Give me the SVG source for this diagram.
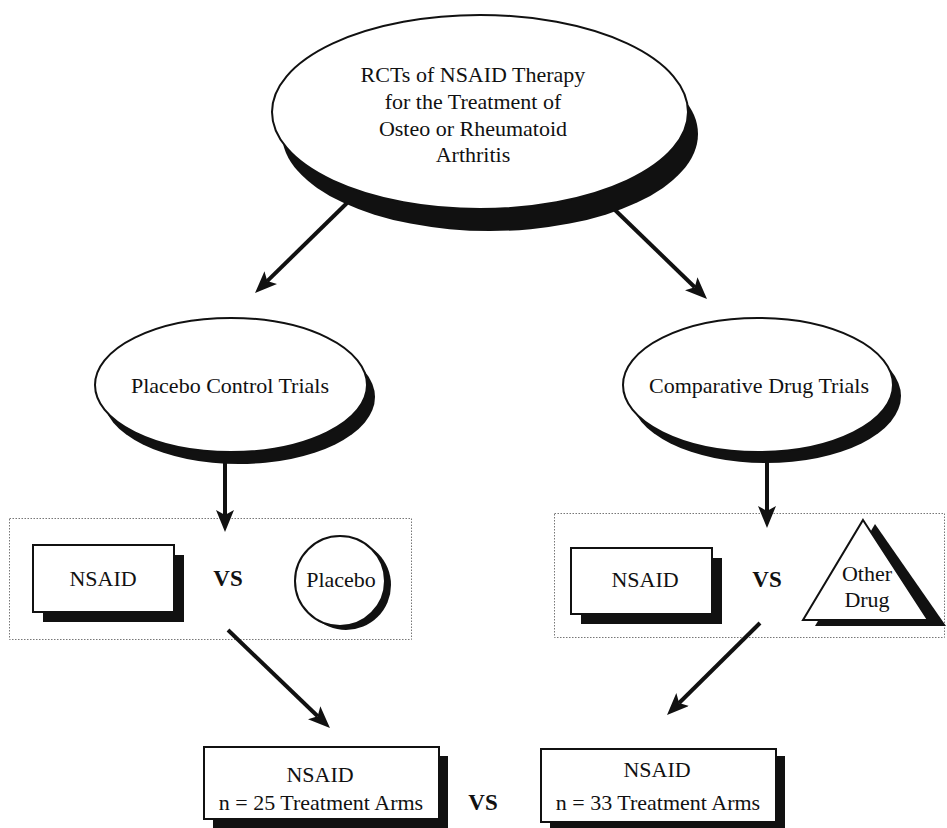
<svg xmlns="http://www.w3.org/2000/svg" width="947" height="828" viewBox="0 0 947 828">
<style>
text{font-family:'Liberation Serif','Tinos','Times New Roman','DejaVu Serif',serif;font-size:22px;fill:#111;text-anchor:middle}
.b{font-weight:bold;font-size:23px}
.shadow{fill:#111;stroke:none}
.shape{fill:#fff;stroke:#111;stroke-width:2}
.dot{fill:none;stroke:#777;stroke-width:1;stroke-dasharray:1.5 1.5}
.conn{stroke:#111;stroke-width:4;fill:none;marker-end:url(#ah)}
</style>
<defs>
<marker id="ah" viewBox="0 0 22 18" markerUnits="userSpaceOnUse" markerWidth="22" markerHeight="18" refX="5" refY="9" orient="auto">
<path d="M0,0 L22,9 L0,18 L5,9 z" fill="#111"/>
</marker>
</defs>
<rect width="947" height="828" fill="#fff"/>
<g id="group-placebo-box"><rect class="dot" x="9.5" y="518.5" width="402" height="121"/></g>
<g id="group-comparative-box"><rect class="dot" x="554.5" y="513.5" width="390" height="124"/></g>
<g id="connectors">
<line class="conn" x1="347" y1="203" x2="267.2" y2="281.1"/>
<line class="conn" x1="615" y1="210" x2="694.8" y2="287.2"/>
<line class="conn" x1="225" y1="460" x2="225" y2="515"/>
<line class="conn" x1="767" y1="458" x2="767" y2="511"/>
<line class="conn" x1="228" y1="630" x2="317.7" y2="716.2"/>
<line class="conn" x1="760" y1="623" x2="679.1" y2="703"/>
</g>
<g id="root">
<ellipse class="shadow" cx="490" cy="134" rx="208" ry="97"/>
<ellipse class="shape" cx="480" cy="112" rx="208" ry="97"/>
<text font-family="Liberation Serif, serif" x="473" y="82">RCTs of NSAID Therapy</text>
<text x="473" y="109">for the Treatment of</text>
<text x="473" y="136">Osteo or Rheumatoid</text>
<text x="473" y="162">Arthritis</text>
</g>
<g id="placebo-trials">
<ellipse class="shadow" cx="239" cy="397" rx="136" ry="67"/>
<ellipse class="shape" cx="231" cy="385" rx="136" ry="67"/>
<text x="230" y="393">Placebo Control Trials</text>
</g>
<g id="comparative-trials">
<ellipse class="shadow" cx="766" cy="396" rx="135" ry="67"/>
<ellipse class="shape" cx="758" cy="385" rx="135" ry="67"/>
<text x="759" y="393">Comparative Drug Trials</text>
</g>
<g id="nsaid-left">
<rect class="shadow" x="43" y="555" width="141" height="67"/>
<rect class="shape" x="33" y="545" width="141" height="67"/>
<text x="103" y="586">NSAID</text>
</g>
<g id="vs-left"><text class="b" x="228" y="586">VS</text></g>
<g id="placebo">
<circle class="shadow" cx="346" cy="585" r="45"/>
<circle class="shape" cx="340" cy="581" r="45"/>
<text x="341" y="587">Placebo</text>
</g>
<g id="nsaid-right">
<rect class="shadow" x="581" y="558" width="141" height="66"/>
<rect class="shape" x="571" y="548" width="141" height="66"/>
<text x="645" y="587">NSAID</text>
</g>
<g id="vs-right"><text class="b" x="767" y="587">VS</text></g>
<g id="other-drug">
<polygon class="shadow" points="875,524 946,626 815,626"/>
<polygon class="shape" points="863,520 928,620 803,620"/>
<text x="867" y="581">Other</text>
<text x="867" y="607">Drug</text>
</g>
<g id="result-left">
<rect class="shadow" x="213" y="756" width="235" height="72"/>
<rect class="shape" x="204" y="747" width="235" height="72"/>
<text x="320" y="782">NSAID</text>
<text x="321" y="810">n = 25 Treatment Arms</text>
</g>
<g id="vs-bottom"><text class="b" x="483" y="810">VS</text></g>
<g id="result-right">
<rect class="shadow" x="550" y="756" width="235" height="73"/>
<rect class="shape" x="541" y="749" width="235" height="73"/>
<text x="657" y="777">NSAID</text>
<text x="658" y="810">n = 33 Treatment Arms</text>
</g>
</svg>
